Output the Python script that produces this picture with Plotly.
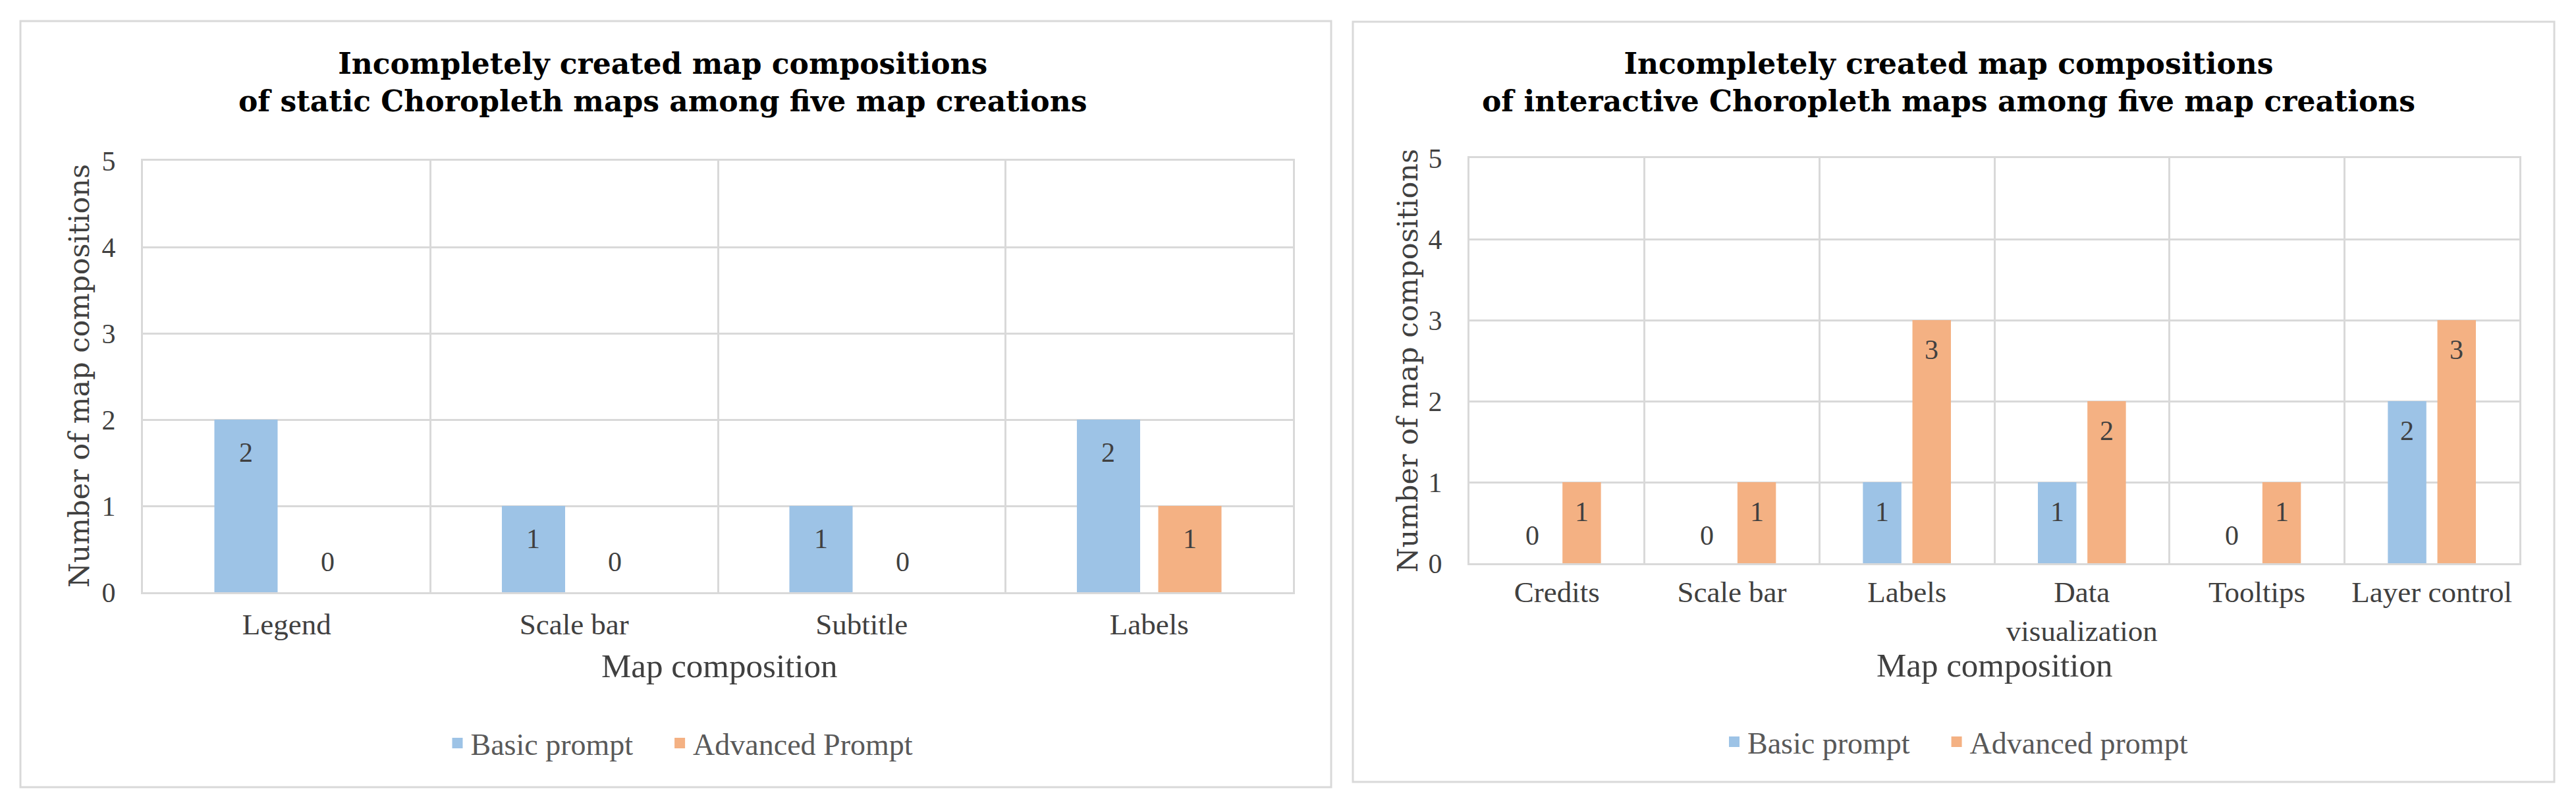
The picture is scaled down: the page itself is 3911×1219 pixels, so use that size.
import plotly.graph_objects as go
from plotly.subplots import make_subplots

W, H = 3911, 1219
BODY = 8  # default page margin around the plot div

STATIC_CATEGORIES = ["Legend", "Scale bar", "Subtitle", "Labels"]
STATIC_BASIC = [2, 1, 1, 2]
STATIC_ADVANCED = [0, 0, 0, 1]

INTERACTIVE_CATEGORIES = ["Credits", "Scale bar", "Labels", "Data<br>visualization", "Tooltips", "Layer control"]
INTERACTIVE_BASIC = [0, 0, 1, 1, 0, 2]
INTERACTIVE_ADVANCED = [1, 1, 3, 2, 1, 3]

TITLE_STATIC = ["Incompletely created map compositions", "of static Choropleth maps among five map creations"]
TITLE_INTERACTIVE = ["Incompletely created map compositions", "of interactive Choropleth maps among five map creations"]

COLOR_BASIC = "#9DC3E6"
COLOR_ADVANCED = "#F4B183"
GRID = "#D9D9D9"
TEXT = "#404040"
SERIF = "Liberation Serif, Times New Roman, serif"
WIDE_SERIF = "DejaVu Serif, serif"

BAR_W = 0.22
OFF_BASIC = -0.2515
OFF_ADV = 0.0315

FW, FH = W - BODY, H - BODY


def px_x(x):
    return (x - BODY) / FW


def px_y(y):
    return 1 - (y - BODY) / FH


fig = make_subplots(rows=1, cols=2)

charts = [
    # categories, basic, advanced, legend, adv name, plot box (x0,x1,y0,y1), label shifts, tick standoff
    (STATIC_CATEGORIES, STATIC_BASIC, STATIC_ADVANCED, "legend", "Advanced Prompt",
     (217, 1963, 244, 899), (-50, 46), 7),
    (INTERACTIVE_CATEGORIES, INTERACTIVE_BASIC, INTERACTIVE_ADVANCED, "legend2", "Advanced prompt",
     (2231, 3825, 240, 855), (-45, 42), 2),
]

for k, (cats, basic, adv, leg, adv_name, box, shifts, standoff) in enumerate(charts):
    col = k + 1
    fig.add_trace(go.Bar(x=cats, y=basic, name="Basic prompt", marker_color=COLOR_BASIC,
                         offset=OFF_BASIC, width=BAR_W, showlegend=False), row=1, col=col)
    fig.add_trace(go.Bar(x=cats, y=adv, name=adv_name, marker_color=COLOR_ADVANCED,
                         offset=OFF_ADV, width=BAR_W, showlegend=False), row=1, col=col)
    # legend entries with bigger square swatches
    for nm, colr in [("Basic prompt" + "\u00a0" * 4, COLOR_BASIC), (adv_name, COLOR_ADVANCED)]:
        fig.add_trace(go.Scatter(x=[None], y=[None], mode="markers", name=nm, legend=leg,
                                 marker=dict(symbol="square", size=19, color=colr)), row=1, col=col)
    x0, x1, y0, y1 = box
    xa = "xaxis" if k == 0 else "xaxis2"
    ya = "yaxis" if k == 0 else "yaxis2"
    fig.layout[xa].update(domain=[px_x(x0), px_x(x1)], type="category", tickson="boundaries",
                          range=[-0.5, len(cats) - 0.5], showgrid=True, gridcolor=GRID, gridwidth=3,
                          showline=True, mirror=True, linecolor=GRID, linewidth=3, ticks="",
                          automargin=False, zeroline=False,
                          tickfont=dict(family=SERIF, size=45, color=TEXT), ticklabelstandoff=standoff)
    fig.layout[ya].update(domain=[px_y(y1), px_y(y0)], range=[0, 5], dtick=1, showgrid=True,
                          gridcolor=GRID, gridwidth=3, zeroline=False, showline=True, mirror=True,
                          linecolor=GRID, linewidth=3, ticks="", automargin=False,
                          tickfont=dict(family=SERIF, size=42, color=TEXT), ticklabelstandoff=30)
    xref = "x" if k == 0 else "x2"
    yref = "y" if k == 0 else "y2"
    # data labels, inside end of each bar
    for vals, off in [(basic, OFF_BASIC), (adv, OFF_ADV)]:
        for i, v in enumerate(vals):
            fig.add_annotation(x=i + off + BAR_W / 2, y=v, xref=xref, yref=yref, text=str(v),
                               showarrow=False, xanchor="center", yanchor="middle",
                               yshift=shifts[0] if v > 0 else shifts[1],
                               font=dict(family=SERIF, size=42, color=TEXT))

# titles
for lines, cx in [(TITLE_STATIC, 1006), (TITLE_INTERACTIVE, 2958)]:
    fig.add_annotation(x=px_x(cx), y=px_y(125), xref="paper", yref="paper",
                       text="<br>".join("<b>" + s + "</b>" for s in lines),
                       showarrow=False, xanchor="center", yanchor="middle",
                       font=dict(family=WIDE_SERIF, size=44, color="black"))

# axis titles
for cx, cy in [(1092, 1011), (3028, 1010)]:
    fig.add_annotation(x=px_x(cx), y=px_y(cy), xref="paper", yref="paper", text="Map composition",
                       showarrow=False, xanchor="center", yanchor="middle",
                       font=dict(family=SERIF, size=51, color=TEXT))
for cx, cy in [(120, 571), (2137, 548)]:
    fig.add_annotation(x=px_x(cx), y=px_y(cy), xref="paper", yref="paper", text="Number of map compositions",
                       showarrow=False, textangle=-90, xanchor="center", yanchor="middle",
                       font=dict(family=WIDE_SERIF, size=43, color=TEXT))

# panel borders
for bx0, by0, bx1, by1 in [(31, 32, 2021, 1195), (2054, 33, 3878, 1187)]:
    fig.add_shape(type="rect", xref="paper", yref="paper", x0=px_x(bx0), x1=px_x(bx1),
                  y0=px_y(by1), y1=px_y(by0), line=dict(color=GRID, width=3))

legend_style = dict(orientation="h", xanchor="center", yanchor="middle", bgcolor="rgba(0,0,0,0)",
                    font=dict(family=SERIF, size=46, color="#595959"))
fig.update_layout(
    template="none",
    width=FW, height=FH, margin=dict(l=0, r=0, t=0, b=0),
    paper_bgcolor="white", plot_bgcolor="white", barmode="overlay",
    legend=dict(x=px_x(1033), y=px_y(1128), **legend_style),
    legend2=dict(x=px_x(2970), y=px_y(1126), **legend_style),
)

fig.write_html("out.html")
